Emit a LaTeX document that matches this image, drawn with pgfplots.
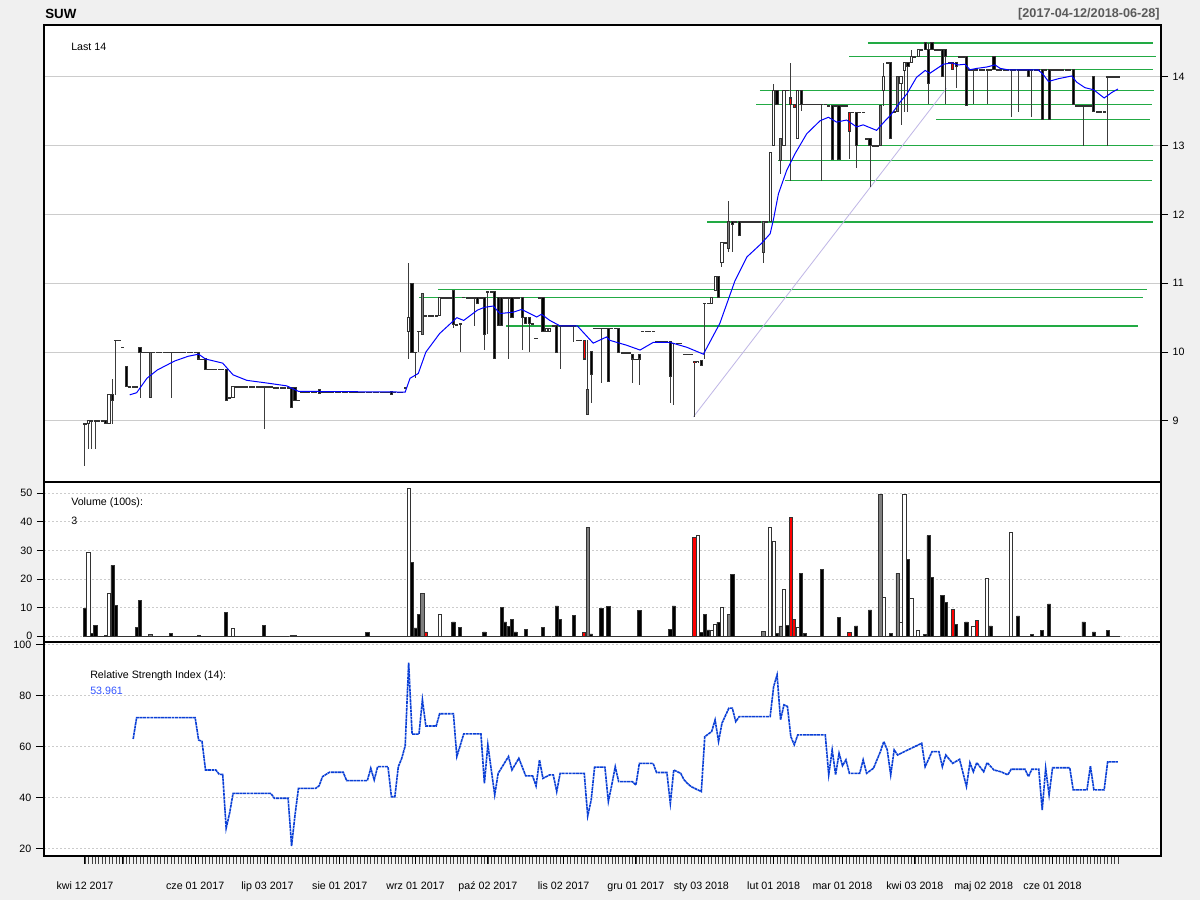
\documentclass[border=0pt]{standalone}
\usepackage{fontspec}
\setmainfont{Liberation Sans}
\usepackage{pgfplots}
\pgfplotsset{compat=1.18}
\usepackage{pgfplotstable}
\definecolor{bgc}{HTML}{F0F0F0}
\definecolor{gridc}{HTML}{CCCCCC}
\definecolor{wickc}{HTML}{3C3C3C}
\definecolor{bordc}{HTML}{333333}
\definecolor{grayc}{HTML}{7F7F7F}
\definecolor{redc}{HTML}{FF0000}
\definecolor{greenc}{HTML}{22AA44}
\definecolor{mac}{HTML}{0000FF}
\definecolor{rsic}{HTML}{0A3FD6}
\definecolor{rsilab}{HTML}{3355FF}
\definecolor{lavc}{HTML}{BFB6E6}
\definecolor{titlegray}{HTML}{5A5A5A}

\pgfplotstableread{
i o h l c v t
0 8.96 8.96 8.35 8.96 9.8 1
1 8.97 9.00 8.60 9.00 29.3 0
2 9.00 9.00 8.60 9.00 1.1 1
3 9.00 9.00 8.60 9.00 3.9 1
4 9.00 9.00 9.00 9.00 0 1
5 9.00 9.00 9.00 9.00 0 1
6 9.00 9.00 8.96 8.96 0.3 1
7 8.96 9.38 8.96 9.38 15.0 0
8 9.38 9.61 8.96 9.30 24.8 1
9 10.17 10.17 9.38 10.17 10.9 1
10 10.17 10.17 10.17 10.17 0 1
11 10.07 10.07 10.07 10.07 0 1
12 9.79 9.79 9.50 9.50 0 1
13 9.50 9.50 9.50 9.50 0 1
14 9.50 9.50 9.50 9.50 0 1
15 9.50 9.50 9.50 9.50 3.0 1
16 10.07 10.07 9.34 10.00 12.4 1
17 10.00 10.00 10.00 10.00 0 1
18 10.00 10.00 10.00 10.00 0 1
19 10.00 10.00 9.34 9.34 0.5 2
20 10.00 10.00 10.00 10.00 0 1
21 10.00 10.00 10.00 10.00 0 1
22 10.00 10.00 10.00 10.00 0 1
23 10.00 10.00 10.00 10.00 0 1
24 10.00 10.00 10.00 10.00 0 1
25 10.00 10.00 9.34 10.00 1.1 1
26 10.00 10.00 10.00 10.00 0 1
27 10.00 10.00 10.00 10.00 0 1
28 10.00 10.00 10.00 10.00 0 1
29 10.00 10.00 10.00 10.00 0 1
30 10.00 10.00 10.00 10.00 0 1
31 10.00 10.00 10.00 10.00 0 1
32 10.00 10.00 10.00 10.00 0 1
33 10.00 10.00 9.90 9.90 0.3 1
34 9.90 9.90 9.90 9.90 0 1
35 9.90 9.90 9.75 9.75 0 1
36 9.75 9.75 9.75 9.75 0 1
37 9.75 9.75 9.75 9.75 0 1
38 9.75 9.75 9.75 9.75 0 1
39 9.75 9.75 9.75 9.75 0 1
40 9.75 9.75 9.75 9.75 0 1
41 9.75 9.75 9.30 9.30 8.4 1
42 9.34 9.34 9.34 9.34 0 1
43 9.34 9.50 9.34 9.50 2.8 0
44 9.50 9.50 9.50 9.50 0 1
45 9.50 9.50 9.50 9.50 0 1
46 9.50 9.50 9.50 9.50 0 1
47 9.50 9.50 9.50 9.50 0 1
48 9.50 9.50 9.50 9.50 0 1
49 9.50 9.50 9.50 9.50 0 1
50 9.50 9.50 9.50 9.50 0 1
51 9.50 9.50 9.50 9.50 0 1
52 9.50 9.50 8.88 9.50 3.7 1
53 9.50 9.50 9.50 9.50 0 1
54 9.50 9.50 9.50 9.50 0 1
55 9.48 9.48 9.48 9.48 0 1
56 9.48 9.48 9.48 9.48 0 1
57 9.48 9.48 9.48 9.48 0 1
58 9.48 9.48 9.48 9.48 0 1
59 9.48 9.48 9.48 9.48 0 1
60 9.48 9.48 9.20 9.20 0.2 1
61 9.48 9.48 9.30 9.30 0.2 1
62 9.30 9.30 9.30 9.30 0 1
63 9.42 9.42 9.42 9.42 0 1
64 9.42 9.42 9.42 9.42 0 1
65 9.42 9.42 9.42 9.42 0 1
66 9.42 9.42 9.42 9.42 0 1
67 9.42 9.42 9.42 9.42 0 1
68 9.45 9.45 9.40 9.40 0 1
69 9.42 9.42 9.42 9.42 0 1
70 9.42 9.42 9.42 9.42 0 1
71 9.42 9.42 9.42 9.42 0 1
72 9.42 9.42 9.42 9.42 0 1
73 9.42 9.42 9.42 9.42 0 1
74 9.42 9.42 9.42 9.42 0 1
75 9.42 9.42 9.42 9.42 0 1
76 9.42 9.42 9.42 9.42 0 1
77 9.42 9.42 9.42 9.42 0 1
78 9.42 9.42 9.42 9.42 0 1
79 9.42 9.42 9.42 9.42 0 1
80 9.42 9.42 9.42 9.42 0 1
81 9.42 9.42 9.42 9.42 0 1
82 9.42 9.42 9.42 9.42 1.4 1
83 9.42 9.42 9.42 9.42 0 1
84 9.42 9.42 9.42 9.42 0 1
85 9.42 9.42 9.42 9.42 0 1
86 9.42 9.42 9.42 9.42 0 1
87 9.42 9.42 9.42 9.42 0 1
88 9.42 9.42 9.42 9.42 0 1
89 9.43 9.43 9.38 9.38 0 1
90 9.42 9.42 9.42 9.42 0 1
91 9.42 9.42 9.42 9.42 0 1
92 9.42 9.42 9.42 9.42 0 1
93 9.48 9.48 9.48 9.48 0 1
94 10.30 11.30 9.90 10.50 51.6 0
95 10.99 10.99 10.00 10.00 25.9 1
96 10.00 10.00 9.62 10.00 2.9 1
97 10.30 10.30 10.00 10.30 7.7 1
98 10.85 10.85 10.25 10.25 15.0 2
99 10.53 10.53 10.53 10.53 1.5 3
100 10.53 10.53 10.53 10.53 0 1
101 10.53 10.53 10.53 10.53 0 1
102 10.53 10.53 10.53 10.53 0 1
103 10.53 10.79 10.53 10.79 7.6 0
104 10.79 10.79 10.79 10.79 0 1
105 10.79 10.79 10.79 10.79 0 1
106 10.79 10.79 10.79 10.79 0 1
107 10.90 10.90 10.35 10.40 5.0 1
108 10.40 10.40 10.40 10.40 0 1
109 10.41 10.41 10.00 10.41 3.0 1
110 10.80 10.80 10.80 10.80 0 1
111 10.79 10.79 10.79 10.79 0 1
112 10.79 10.79 10.79 10.79 0 1
113 10.79 10.79 10.38 10.79 0 1
114 10.79 10.79 10.70 10.70 0 1
115 10.79 10.79 10.79 10.79 0 1
116 10.79 10.79 10.03 10.26 1.5 1
117 10.88 10.88 10.26 10.88 0 1
118 10.88 10.88 10.88 10.88 0 1
119 10.88 10.88 9.91 9.91 0 1
120 10.79 10.79 10.38 10.38 0 1
121 10.79 10.79 10.38 10.38 10.0 1
122 10.79 10.79 10.79 10.79 5.0 1
123 10.79 10.79 9.90 10.79 3.5 1
124 10.79 10.79 10.50 10.50 6.0 1
125 10.79 10.79 10.79 10.79 1.5 1
126 10.79 10.79 10.79 10.79 0 1
127 10.79 10.79 10.03 10.50 0 1
128 10.50 10.50 10.41 10.41 2.5 1
129 10.50 10.50 10.00 10.41 0 1
130 10.41 10.41 10.41 10.41 0 1
131 10.20 10.20 10.20 10.20 0 1
132 10.79 10.79 10.79 10.79 0 1
133 10.79 10.79 10.30 10.30 3.0 1
134 10.30 10.35 10.30 10.35 0 0
135 10.30 10.35 10.30 10.35 0 0
136 10.38 10.38 10.38 10.38 0 1
137 10.38 10.38 10.00 10.00 10.6 1
138 10.38 10.38 9.75 10.38 6.0 1
139 10.38 10.38 10.38 10.38 0 1
140 10.38 10.38 10.38 10.38 0 1
141 10.38 10.38 10.38 10.38 0 1
142 10.38 10.38 10.15 10.38 7.4 1
143 10.17 10.17 10.17 10.17 0 1
144 10.17 10.17 10.17 10.17 0 1
145 10.17 10.17 9.90 9.90 1.4 3
146 9.46 10.17 9.10 9.10 38.0 2
147 10.01 10.01 9.26 9.68 0.8 1
148 10.35 10.35 10.35 10.35 0 1
149 10.35 10.35 10.35 10.35 0 1
150 10.35 10.35 9.55 10.35 9.6 1
151 10.35 10.35 10.35 10.35 0 1
152 10.35 10.35 9.57 9.57 10.3 1
153 10.35 10.35 10.35 10.35 0 1
154 10.35 10.35 10.35 10.35 0 1
155 10.35 10.35 9.99 9.99 0 1
156 9.99 9.99 9.99 9.99 0 1
157 9.99 9.99 9.99 9.99 0 1
158 9.99 9.99 9.99 9.99 0 1
159 9.97 9.97 9.55 9.90 0 1
160 9.90 9.90 9.90 9.90 0 1
161 9.97 9.97 9.52 9.90 8.9 1
162 10.30 10.30 10.30 10.30 0 1
163 10.30 10.30 10.30 10.30 0 1
164 10.30 10.30 10.30 10.30 0 1
165 10.30 10.30 10.30 10.30 0 1
166 10.15 10.15 10.15 10.15 0 1
167 10.15 10.15 10.15 10.15 0 1
168 10.15 10.15 10.15 10.15 0 1
169 10.15 10.15 10.15 10.15 0 1
170 10.15 10.15 9.26 9.64 2.3 1
171 10.13 10.13 9.23 10.13 10.6 1
172 10.13 10.13 10.13 10.13 0 1
173 10.13 10.13 10.13 10.13 0 1
174 9.97 9.97 9.97 9.97 0 1
175 9.97 9.97 9.97 9.97 0 1
176 9.97 9.97 9.97 9.97 0 1
177 9.87 9.87 9.06 9.85 34.6 3
178 9.85 9.87 9.85 9.87 35.2 0
179 9.88 9.88 9.80 9.80 1.4 1
180 10.71 10.71 9.90 10.71 7.5 1
181 10.71 10.71 10.71 10.71 2.2 1
182 10.70 10.79 10.70 10.79 1.9 0
183 10.90 11.10 10.90 11.10 4.2 0
184 11.10 11.10 10.79 10.79 4.9 1
185 11.30 11.59 11.23 11.59 10.2 0
186 11.59 11.59 11.59 11.59 0 1
187 11.89 12.20 11.45 11.51 7.7 2
188 11.89 11.89 11.45 11.85 21.7 1
189 11.89 11.89 11.89 11.89 0 1
190 11.89 11.89 11.70 11.70 0 1
191 11.89 11.89 11.89 11.89 0 1
192 11.89 11.89 11.89 11.89 0 1
193 11.89 11.89 11.89 11.89 0 1
194 11.89 11.89 11.89 11.89 0 1
195 11.89 11.89 11.89 11.89 0 1
196 11.89 11.89 11.89 11.89 0 1
197 11.89 11.89 11.30 11.45 1.7 2
198 11.89 11.89 11.89 11.89 0 1
199 11.89 12.90 11.89 12.90 38.0 0
200 13.00 13.90 13.00 13.80 33.2 0
201 13.80 13.80 13.60 13.60 1.0 1
202 13.10 13.10 12.59 12.78 3.6 2
203 13.00 13.80 13.00 13.80 16.5 0
204 13.80 13.80 13.80 13.80 3.9 1
205 13.69 14.20 12.49 13.60 41.5 3
206 13.60 13.60 13.55 13.55 6.0 3
207 13.10 13.80 13.10 13.80 3.2 0
208 13.80 13.80 13.50 13.60 22.1 1
209 13.60 13.60 13.60 13.60 0.9 1
210 13.60 13.60 13.60 13.60 0 1
211 13.60 13.60 13.60 13.60 0 1
212 13.60 13.60 13.60 13.60 0 1
213 13.60 13.60 13.60 13.60 0 1
214 13.60 13.60 12.49 13.60 23.4 1
215 13.60 13.60 13.60 13.60 0 1
216 13.58 13.58 13.58 13.58 0 1
217 13.58 13.58 12.80 12.80 0 1
218 13.58 13.58 13.58 13.58 0 1
219 13.58 13.58 12.80 12.80 6.6 1
220 13.58 13.58 13.58 13.58 0 1
221 13.58 13.58 13.58 13.58 0 1
222 13.48 13.48 12.80 13.20 1.2 3
223 13.48 13.48 13.48 13.48 0 1
224 13.48 13.48 12.67 13.00 3.6 1
225 13.48 13.48 13.48 13.48 0 1
226 13.48 13.48 13.48 13.48 0 1
227 13.10 13.10 13.10 13.10 0 1
228 13.10 13.10 12.40 13.00 9.2 1
229 13.00 13.00 13.00 13.00 0 1
230 13.00 13.00 13.00 13.00 0 1
231 13.58 13.58 13.00 13.00 49.6 2
232 13.80 14.20 13.58 14.00 13.6 0
233 14.20 14.20 14.20 14.20 0 1
234 14.20 14.20 13.10 13.10 0.9 1
235 13.49 13.49 13.49 13.49 0 1
236 14.00 14.00 13.49 13.49 22.0 2
237 13.90 14.00 13.30 14.00 5.0 0
238 14.09 14.20 13.49 14.20 49.6 0
239 14.20 14.20 13.49 14.15 26.9 1
240 14.20 14.39 14.20 14.29 13.3 0
241 14.29 14.29 14.29 14.29 0 1
242 14.29 14.39 14.29 14.39 2.1 0
243 14.39 14.39 14.39 14.39 0 1
244 14.49 14.49 14.39 14.39 0.7 1
245 14.39 14.49 13.60 13.90 35.2 1
246 14.49 14.49 14.39 14.39 20.6 1
247 14.39 14.39 14.39 14.39 0 1
248 14.39 14.39 14.39 14.39 0 1
249 14.39 14.39 14.00 14.00 14.3 1
250 14.39 14.39 13.60 14.29 11.9 1
251 14.20 14.20 14.20 14.20 0 1
252 14.20 14.20 14.10 14.10 9.5 3
253 14.20 14.20 13.83 14.15 4.0 1
254 14.29 14.29 14.29 14.29 0 1
255 14.29 14.29 14.29 14.29 0 1
256 14.29 14.29 13.58 13.58 5.0 1
257 14.10 14.10 14.10 14.10 0 1
258 14.10 14.10 13.60 14.10 3.6 0
259 14.10 14.10 14.10 14.10 5.6 3
260 14.10 14.10 14.10 14.10 0 1
261 14.10 14.10 14.10 14.10 0 1
262 14.10 14.10 13.60 14.10 20.2 0
263 14.10 14.10 14.10 14.10 3.6 1
264 14.29 14.29 14.10 14.10 0 1
265 14.10 14.10 14.10 14.10 0 1
266 14.10 14.10 14.10 14.10 0 1
267 14.10 14.10 14.10 14.10 0 1
268 14.10 14.10 14.10 14.10 0 1
269 14.10 14.10 13.41 14.10 36.3 0
270 14.10 14.10 14.10 14.10 0 1
271 14.10 14.10 13.49 14.10 7.1 1
272 14.10 14.10 14.10 14.10 0 1
273 14.10 14.10 14.10 14.10 0 1
274 14.10 14.10 14.00 14.00 0 1
275 14.10 14.10 13.41 14.10 0.5 1
276 14.10 14.10 14.10 14.10 0 1
277 14.10 14.10 14.10 14.10 0 1
278 14.10 14.10 13.38 13.38 1.9 1
279 14.10 14.10 14.10 14.10 0 1
280 14.10 14.10 13.38 13.38 11.3 1
281 14.10 14.10 14.10 14.10 0 1
282 14.10 14.10 14.10 14.10 0 1
283 14.10 14.10 14.10 14.10 0 1
284 14.10 14.10 14.10 14.10 0 1
285 14.10 14.10 14.10 14.10 0 1
286 14.10 14.10 14.10 14.10 0 1
287 14.10 14.10 13.60 13.60 0 1
288 13.58 13.58 13.58 13.58 0 1
289 13.58 13.58 13.58 13.58 0 1
290 13.58 13.58 13.00 13.58 5.0 1
291 13.58 13.58 13.58 13.58 0 1
292 13.58 13.58 13.58 13.58 0 1
293 14.00 14.00 13.49 13.49 1.5 1
294 13.49 13.49 13.49 13.49 0 1
295 13.49 13.49 13.49 13.49 0 1
296 13.49 13.49 13.49 13.49 0 1
297 14.00 14.00 13.00 14.00 1.9 1
298 14.00 14.00 14.00 14.00 0 1
299 14.00 14.00 14.00 14.00 0 1
300 14.00 14.00 14.00 14.00 0.03 1
}\ohlc

\pgfplotsset{
  panel/.style={
    scale only axis, width=837.75pt, xmin=-11.9, xmax=312.5,
    anchor=south west,
    axis background/.style={fill=white},
    axis line style={line width=1.15pt},
    tick align=outside, major tick length=5.25pt,
    major tick style={black, line width=0.75pt},
    tick label style={font=\fontsize{8}{9.6}\selectfont},
    /pgf/number format/assume math mode=true,
  },
  eb/.style={draw=none, mark=none, forget plot, error bars/.cd, y dir=both, y explicit, error mark=none},
}

\begin{document}
\begin{tikzpicture}
\fill[bgc] (0pt,0pt) rectangle (900pt,675pt);

% ---------------- main price panel ----------------
\begin{axis}[panel,
  at={(33pt,313.5pt)}, height=342.75pt,
  ymin=8.114, ymax=14.75,
  xtick=\empty,
  ytick={9,10,11,12,13,14},
  ytick pos=right, yticklabel pos=right,
  ymajorgrids, major grid style={gridc, line width=0.75pt},
]
% support / resistance lines
\addplot[greenc, line width=0.9pt] coordinates {(227.4,14.49) (310.2,14.49)};
\addplot[greenc, line width=0.9pt] coordinates {(221.9,14.29) (311.0,14.29)};
\addplot[greenc, line width=0.9pt] coordinates {(265.8,14.10) (310.2,14.10)};
\addplot[greenc, line width=0.9pt] coordinates {(196.0,13.80) (310.5,13.80)};
\addplot[greenc, line width=0.9pt] coordinates {(194.9,13.60) (309.9,13.60)};
\addplot[greenc, line width=0.9pt] coordinates {(247.2,13.38) (309.3,13.38)};
\addplot[greenc, line width=0.9pt] coordinates {(223.9,13.00) (310.2,13.00)};
\addplot[greenc, line width=0.9pt] coordinates {(201.3,12.78) (310.2,12.78)};
\addplot[greenc, line width=0.9pt] coordinates {(203.3,12.49) (309.9,12.49)};
\addplot[greenc, line width=0.9pt] coordinates {(180.7,11.89) (310.2,11.89)};
\addplot[greenc, line width=0.9pt] coordinates {(102.5,10.91) (308.5,10.91)};
\addplot[greenc, line width=0.9pt] coordinates {(97.0,10.79) (307.3,10.79)};
\addplot[greenc, line width=0.9pt] coordinates {(122.3,10.38) (305.8,10.38)};
% trend line
\addplot[lavc, line width=0.6pt] coordinates {(176.7,9.06) (250.2,13.83)};
% wicks
\addplot[eb, error bar style={draw=wickc, line width=0.75pt}]
  table[x=i, y expr={(\thisrow{h}+\thisrow{l})/2}, y error expr={(\thisrow{h}-\thisrow{l})/2}] {\ohlc};
% body outlines
\addplot[eb, error bar style={draw=bordc, line width=2.4pt}]
  table[x=i, y expr={(\thisrow{o}+\thisrow{c})/2}, y error expr={abs(\thisrow{o}-\thisrow{c})/2+0.0073}] {\ohlc};
% body fills
\addplot[draw=none, mark=none, forget plot, restrict expr to domain={\thisrow{t}}{0:0},
  error bars/.cd, y dir=both, y explicit, error mark=none, error bar style={draw=white, line width=0.9pt}]
  table[x=i, y expr={(\thisrow{o}+\thisrow{c})/2}, y error expr={max(abs(\thisrow{o}-\thisrow{c})/2-0.0073,0)}] {\ohlc};
\addplot[draw=none, mark=none, forget plot, restrict expr to domain={\thisrow{t}}{1:1},
  error bars/.cd, y dir=both, y explicit, error mark=none, error bar style={draw=black, line width=0.9pt}]
  table[x=i, y expr={(\thisrow{o}+\thisrow{c})/2}, y error expr={max(abs(\thisrow{o}-\thisrow{c})/2-0.0073,0)}] {\ohlc};
\addplot[draw=none, mark=none, forget plot, restrict expr to domain={\thisrow{t}}{2:2},
  error bars/.cd, y dir=both, y explicit, error mark=none, error bar style={draw=grayc, line width=0.9pt}]
  table[x=i, y expr={(\thisrow{o}+\thisrow{c})/2}, y error expr={max(abs(\thisrow{o}-\thisrow{c})/2-0.0073,0)}] {\ohlc};
\addplot[draw=none, mark=none, forget plot, restrict expr to domain={\thisrow{t}}{3:3},
  error bars/.cd, y dir=both, y explicit, error mark=none, error bar style={draw=redc, line width=0.9pt}]
  table[x=i, y expr={(\thisrow{o}+\thisrow{c})/2}, y error expr={max(abs(\thisrow{o}-\thisrow{c})/2-0.0073,0)}] {\ohlc};
% moving average
\addplot[mac, line width=0.75pt] coordinates {
(13,9.38) (15,9.41) (18,9.62) (21,9.74) (26,9.87) (30,9.94) (33,9.97) (35,9.90) (40,9.84)
(43,9.67) (47,9.59) (53,9.55) (58.6,9.51) (62,9.43) (93,9.42) (94.4,9.62) (96.8,9.69) (99,10.0)
(103,10.27) (108,10.5) (110,10.46) (114,10.61) (116,10.65) (118.6,10.67) (120.5,10.56)
(124.4,10.58) (126.8,10.62) (131.2,10.51) (132.6,10.55) (135,10.46) (138,10.38) (143,10.38)
(147.6,10.13) (151.5,10.22) (152.5,10.17) (157.3,10.10) (161.2,10.03) (165,10.14) (170,10.14)
(174.8,10.07) (179.6,9.97) (184.4,10.42) (188.8,11.04) (192.2,11.38) (196.5,11.58) (199,11.72)
(200,11.94) (201.4,12.30) (203.8,12.64) (206.2,12.88) (209.6,13.17) (213.5,13.36) (215.9,13.41)
(218.3,13.34) (221.2,13.37) (224.1,13.27) (226,13.30) (229.9,13.22) (232.4,13.36) (233.8,13.43)
(235.3,13.53) (236.7,13.63) (238.7,13.75) (241.5,13.99) (244,14.09) (245.4,14.05) (249.3,14.18)
(251.7,14.20) (253.6,14.17) (255.6,14.18) (257,14.10) (259,14.12) (261.9,14.14) (264.3,14.17)
(265.8,14.12) (268,14.10) (276.8,14.10) (278.3,14.03) (279.8,13.93) (282.7,13.97) (286.6,14.01)
(288,13.92) (290.4,13.84) (292.9,13.81) (296,13.69) (298.2,13.77) (300,13.82)};
\end{axis}

% ---------------- volume panel ----------------
\begin{axis}[panel,
  at={(33pt,193.5pt)}, height=120pt,
  ymin=-2.0, ymax=53.9,
  xtick=\empty,
  ytick={0,10,20,30,40,50}, ytick pos=left,
  ymajorgrids, major grid style={gridc, line width=0.75pt, dash pattern=on 1.5pt off 1.5pt},
]
\addplot[ybar, bar width=2.4pt, bar shift=0pt, draw=bordc, line width=0.6pt, fill=white, forget plot,
  restrict expr to domain={\thisrow{t}}{0:0}] table[x=i, y=v] {\ohlc};
\addplot[ybar, bar width=2.4pt, bar shift=0pt, draw=bordc, line width=0.6pt, fill=black, forget plot,
  restrict expr to domain={\thisrow{t}}{1:1}] table[x=i, y=v] {\ohlc};
\addplot[ybar, bar width=2.4pt, bar shift=0pt, draw=bordc, line width=0.6pt, fill=grayc, forget plot,
  restrict expr to domain={\thisrow{t}}{2:2}] table[x=i, y=v] {\ohlc};
\addplot[ybar, bar width=2.4pt, bar shift=0pt, draw=bordc, line width=0.6pt, fill=redc, forget plot,
  restrict expr to domain={\thisrow{t}}{3:3}] table[x=i, y=v] {\ohlc};
\end{axis}

% ---------------- RSI panel ----------------
\begin{axis}[panel,
  at={(33pt,33pt)}, height=160.5pt,
  ymin=17.0, ymax=101.1,
  xtick={0,11,32,53,74,96,117,139,160,179,200,220,241,261,281},
  xticklabels={kwi 12 2017,,cze 01 2017,lip 03 2017,sie 01 2017,wrz 01 2017,paź 02 2017,lis 02 2017,gru 01 2017,sty 03 2018,lut 01 2018,mar 01 2018,kwi 03 2018,maj 02 2018,cze 01 2018},
  minor xtick={0,1,...,300},
  xtick pos=bottom,
  major tick length=6pt, minor tick length=6pt,
  minor tick style={black!75, line width=0.45pt},
  xticklabel style={yshift=-10pt},
  ytick={20,40,60,80,100}, ytick pos=left,
  ymajorgrids, major grid style={gridc, line width=0.75pt, dash pattern=on 1.5pt off 1.5pt},
]
\addplot[rsic, line width=1.2pt, dash pattern=on 2.2pt off 0.45pt] coordinates {
(14,63.0) (15,71.4) (32,71.4) (33,62.6) (34,62.0) (35,50.8) (38,50.8) (39,49.1) (40,49.1)
(41,27.9) (42,33.8) (43,41.6) (54,41.6) (55,39.7) (59,39.7) (60,20.9) (61,33.1) (62,43.6)
(67,43.6) (68,44.6) (69,48.2) (71,49.9) (75,49.9) (76,46.6) (82,46.6) (83,51.5) (84,46.9)
(85,52.1) (88,52.1) (89,40.3) (90,40.3) (91,52.1) (92,55.4) (93,60.3) (94,93.0) (95,64.9)
(97,64.9) (98,78.4) (99,68.1) (102,68.1) (103,72.9) (107,72.9) (108,56.1) (110,65.0) (115,65.0)
(116,45.6) (117,60.7) (119,41.0) (120,49.5) (123,56.1) (124,50.8) (126,55.4) (128,48.5)
(130,48.5) (131,44.5) (132,54.8) (133,47.5) (135,48.9) (136,48.9) (137,42.3) (138,49.5)
(145,49.5) (146,32.7) (147,38.9) (148,51.9) (151,51.9) (152,38.4) (153,45) (154,52.1) (155,46.2)
(159,46.2) (160,44.9) (161,53.4) (165,53.4) (166,49.8) (169,49.8) (170,37.7) (171,50.8)
(173,49.5) (174,46.9) (175,45.5) (176,44.3) (179,42.3) (180,63.9) (182,65.9) (183,70.5)
(184,62.0) (185,69.2) (187,75.1) (188,75.1) (189,69.8) (190,71.8) (199,71.8) (200,83.6)
(201,88.2) (202,70.5) (203,76.4) (204,75.8) (205,63.9) (206,60.7) (207,64.6) (215,64.6)
(216,48.9) (217,58.7) (218,48.9) (219,57.4) (220,52.5) (221,54.8) (222,49.5) (225,49.5)
(226,54.8) (227,49.5) (229,51.5) (231,58) (232,62.0) (233,58.7) (234,48.9) (235,58.7)
(236,56.7) (239,58.7) (243,61.3) (244,52.1) (246,58.0) (248,58.0) (249,52.1) (250,56.7)
(252,53.4) (254,55.0) (256,44.3) (257,53.7) (258,50.1) (259,53.7) (261,50.1) (262,53.7)
(264,50.8) (266,50.1) (268,48.9) (269,51.1) (273,51.1) (274,48.2) (275,51.1) (277,51.1)
(278,35.1) (279,51.5) (280,41.0) (281,51.7) (286,51.7) (287,43.0) (291,43.0) (292,52.4)
(293,43.0) (296,43.0) (297,54.0) (300,54.0)};
\end{axis}

% ---------------- texts ----------------
\node[anchor=west, inner sep=0pt, font=\bfseries\fontsize{10}{12}\selectfont] at (33.75pt,664.5pt) {SUW};
\node[anchor=east, inner sep=0pt, text=titlegray, font=\bfseries\fontsize{9.5}{11}\selectfont] at (870pt,664.5pt) {[2017-04-12/2018-06-28]};
\node[anchor=west, inner sep=0pt, font=\fontsize{8}{9.6}\selectfont] at (53.25pt,639.75pt) {Last 14};
\node[anchor=west, inner sep=0pt, font=\fontsize{8}{9.6}\selectfont] at (53.25pt,297.75pt) {Volume (100s):};
\node[anchor=west, inner sep=0pt, font=\fontsize{8}{9.6}\selectfont] at (53.25pt,284.25pt) {3};
\node[anchor=west, inner sep=0pt, font=\fontsize{8}{9.6}\selectfont] at (67.5pt,168pt) {Relative Strength Index (14):};
\node[anchor=west, inner sep=0pt, text=rsilab, font=\fontsize{8}{9.6}\selectfont] at (67.5pt,156.75pt) {53.961};
\end{tikzpicture}
\end{document}
